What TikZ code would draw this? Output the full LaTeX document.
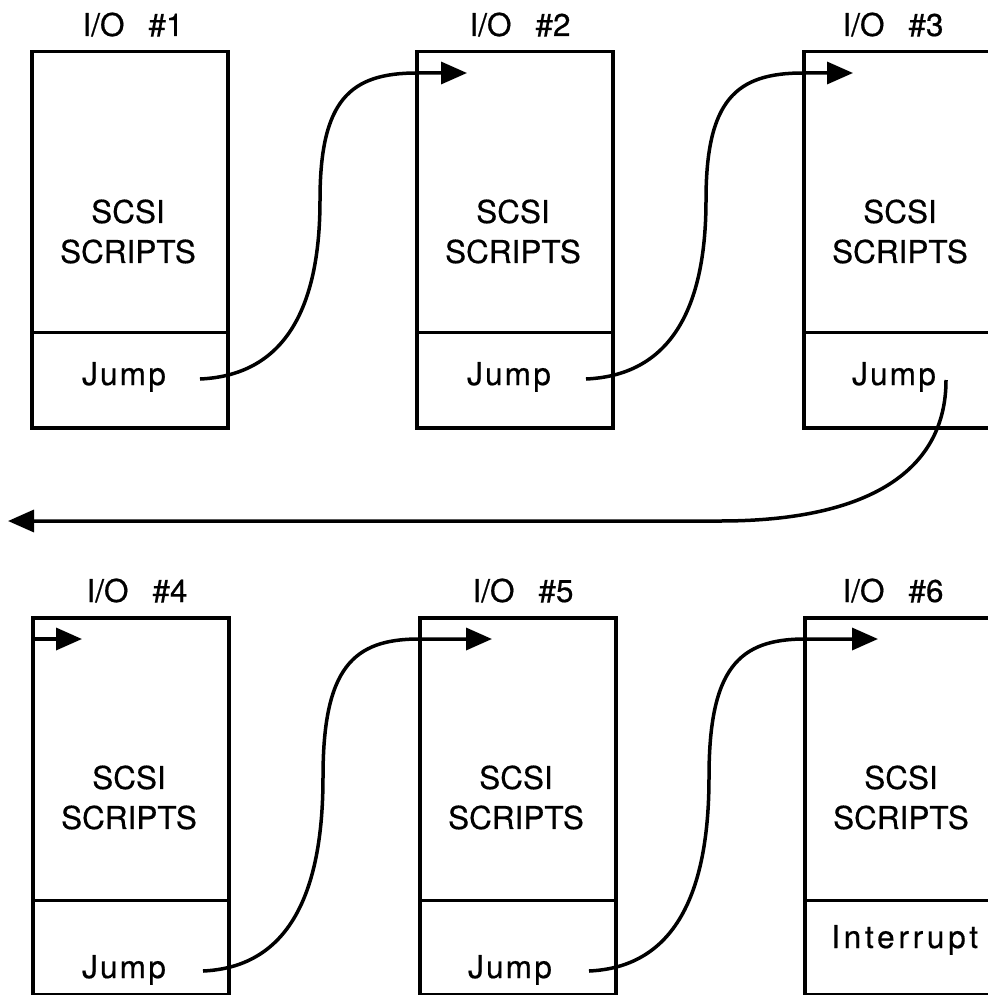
\documentclass[tikz,border=0pt]{standalone}
\usepackage{fontspec}
\setmainfont[FakeBold=0.5]{TeX Gyre Heros}
\usetikzlibrary{arrows.meta,calc}
\tikzset{
  box/.style={draw, line width=3.5pt, rectangle, inner sep=0pt, minimum width=196pt, minimum height=376pt, anchor=north west},
  div/.style={line width=3pt},
  lbl/.style={font=\fontsize{31.5}{40}\selectfont, inner sep=0pt},
  body/.style={lbl, align=center, anchor=center},
  conn/.style={line width=3.5pt, -{Triangle[length=26pt,width=22pt]}},
}
\newcommand{\jumpword}{\addfontfeature{LetterSpace=7}Jump}
\newcommand{\iolabel}[1]{I/O\hspace{24pt}\##1}
\begin{document}
\begin{tikzpicture}[x=1pt,y=-1pt]
\useasboundingbox (0,0) rectangle (987,995);
% boxes
\node[box] (b1) at (30,50) {};
\node[box] (b2) at (415,50) {};
\node[box] (b3) at (802,50) {};
\node[box, minimum height=377pt] (b4) at (31,616) {};
\node[box, minimum height=377pt] (b5) at (418,616) {};
\node[box, minimum height=377pt] (b6) at (803,616) {};
% dividers
\foreach \b in {b1,b2,b3} \draw[div] ($(\b.north west)+(0,282)$) -- ($(\b.north east)+(0,282)$);
\foreach \b in {b4,b5,b6} \draw[div] ($(\b.north west)+(0,284)$) -- ($(\b.north east)+(0,284)$);
% titles
\node[lbl, anchor=base] (l1) at (133,36) {\iolabel{1}};
\node[lbl, anchor=base] (l2) at (520,36) {\iolabel{2}};
\node[lbl, anchor=base] (l3) at (893,36) {\iolabel{3}};
\node[lbl, anchor=base] (l4) at (137,602) {\iolabel{4}};
\node[lbl, anchor=base] (l5) at (523,602) {\iolabel{5}};
\node[lbl, anchor=base] (l6) at (893,602) {\iolabel{6}};
% body text
\node[body] (s1) at (128,231.5) {SCSI\\SCRIPTS};
\node[body] (s2) at (513,231.5) {SCSI\\SCRIPTS};
\node[body] (s3) at (900,231.5) {SCSI\\SCRIPTS};
\node[body] (s4) at (129,797.5) {SCSI\\SCRIPTS};
\node[body] (s5) at (516,797.5) {SCSI\\SCRIPTS};
\node[body] (s6) at (901,797.5) {SCSI\\SCRIPTS};
% bottom cells
\node[lbl, anchor=base] (j1) at (124,385) {\jumpword};
\node[lbl, anchor=base] (j2) at (509,385) {\jumpword};
\node[lbl, anchor=base] (j3) at (894,385) {\jumpword};
\node[lbl, anchor=base] (j4) at (124,978) {\jumpword};
\node[lbl, anchor=base] (j5) at (510,978) {\jumpword};
\node[lbl, anchor=base west] (i6) at (831,948) {\addfontfeature{LetterSpace=12}Interrupt};
% connector coordinates
\coordinate (a1) at (200,379);
\coordinate (m1) at (320,200);
\coordinate (e1) at (417,73);
\coordinate (t1) at (467,73);
\coordinate (a2) at (586,379);
\coordinate (m2) at (706,200);
\coordinate (e2) at (803,73);
\coordinate (t2) at (853,73);
\coordinate (a3) at (946,380);
\coordinate (e3) at (720,521);
\coordinate (t3) at (8,521);
\coordinate (a4) at (203,971);
\coordinate (m4) at (323,777);
\coordinate (e4) at (419,639);
\coordinate (t4) at (492,639);
\coordinate (a5) at (589,971);
\coordinate (m5) at (709,777);
\coordinate (e5) at (805,639);
\coordinate (t5) at (878,639);
\coordinate (e0) at (31,639);
\coordinate (t0) at (82,639);
% connectors
\draw[conn] (a1) .. controls (290,375) and (320,300) .. (m1) .. controls (320,100) and (350,73) .. (e1) -- (t1);
\draw[conn] (a2) .. controls (676,375) and (706,300) .. (m2) .. controls (706,100) and (736,73) .. (e2) -- (t2);
\draw[conn] (a3) .. controls (946,470) and (870,521) .. (e3) -- (t3);
\draw[conn] (a4) .. controls (293,967) and (323,886) .. (m4) .. controls (323,668) and (353,639) .. (e4) -- (t4);
\draw[conn] (a5) .. controls (679,967) and (709,886) .. (m5) .. controls (709,668) and (739,639) .. (e5) -- (t5);
\draw[conn] (e0) -- (t0);
\end{tikzpicture}
\end{document}
